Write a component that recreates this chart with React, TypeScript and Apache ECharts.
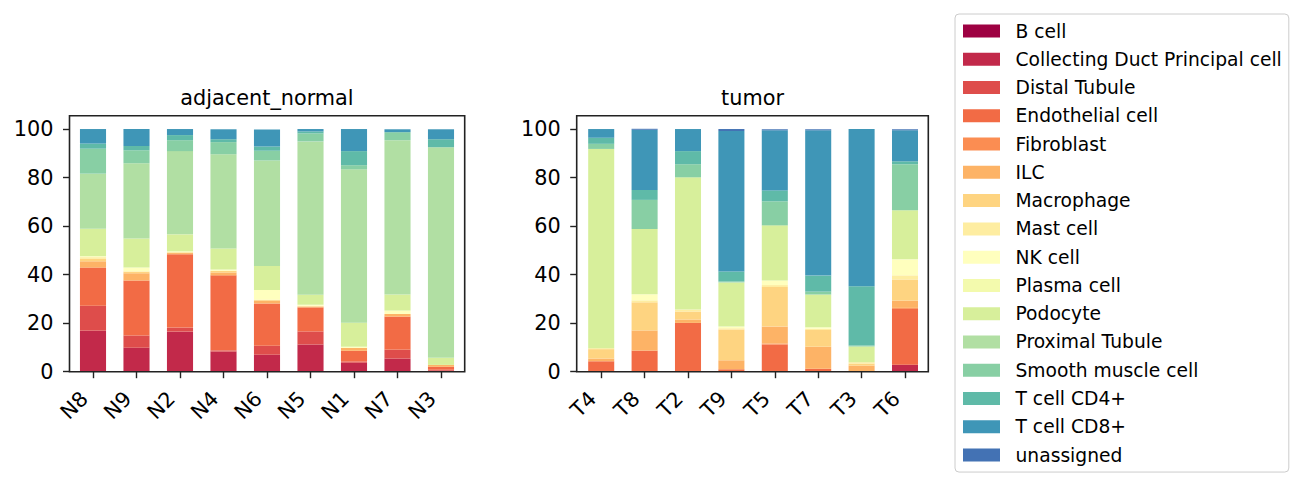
import { useEffect, useRef } from "react";
import * as echarts from "echarts";

const normalSamples = ["N8", "N9", "N2", "N4", "N6", "N5", "N1", "N7", "N3"];
const tumorSamples = ["T4", "T8", "T2", "T9", "T5", "T7", "T3", "T6"];

const cellTypes = [
  "B cell",
  "Collecting Duct Principal cell",
  "Distal Tubule",
  "Endothelial cell",
  "Fibroblast",
  "ILC",
  "Macrophage",
  "Mast cell",
  "NK cell",
  "Plasma cell",
  "Podocyte",
  "Proximal Tubule",
  "Smooth muscle cell",
  "T cell CD4+",
  "T cell CD8+",
  "unassigned",
];

const cellColors = [
  "#9e0142",
  "#c2294a",
  "#de4d4b",
  "#f26b45",
  "#fb8d52",
  "#fdb366",
  "#fed481",
  "#feeda1",
  "#ffffbe",
  "#f3faad",
  "#d7ef9b",
  "#b1dfa3",
  "#88cfa4",
  "#5fbaa8",
  "#3f96b7",
  "#4372b4",
];

// percent per sample, one row per cell type (same order as cellTypes)
const normalPct = [
  [0, 0, 0, 0, 0, 0, 0, 0, 0],
  [16.9, 9.9, 16.5, 8.3, 7.0, 11.2, 3.7, 5.4, 0.4],
  [10.3, 5.0, 1.7, 0.5, 3.7, 5.4, 0.5, 3.7, 0.4],
  [15.7, 22.7, 30.2, 30.9, 17.4, 9.9, 4.4, 13.6, 1.2],
  [0, 0, 0, 0, 0, 0, 0, 0, 0],
  [2.6, 3.0, 0.5, 1.2, 1.1, 0.4, 1.2, 1.1, 0.8],
  [1.0, 0.7, 0.3, 0.7, 0.4, 0, 0, 0, 0],
  [0.7, 0, 0, 0, 0, 0.3, 0, 0, 0],
  [0.4, 1.6, 0.4, 0.5, 4.1, 0.4, 0.5, 1.4, 0],
  [0, 0, 0, 0, 0, 0, 0, 0, 0],
  [11.3, 12.0, 7.0, 8.7, 9.9, 4.1, 9.9, 6.6, 2.9],
  [22.7, 31.0, 34.3, 38.8, 43.4, 63.2, 63.2, 63.6, 86.8],
  [10.3, 5.4, 4.5, 5.0, 4.1, 3.3, 1.7, 3.3, 0],
  [2.1, 1.7, 2.1, 1.2, 1.7, 0.8, 5.8, 0, 3.3],
  [6.0, 7.0, 2.5, 4.1, 7.0, 1.0, 9.1, 1.2, 4.1],
  [0, 0, 0, 0, 0, 0, 0, 0, 0],
];

const tumorPct = [
  [0, 0, 0, 0, 0, 0, 0, 0],
  [0, 0, 0, 0, 0, 0, 0, 2.9],
  [0, 0, 0, 0, 0, 0, 0, 0],
  [4.3, 8.7, 20.1, 1.0, 11.2, 1.2, 0, 23.0],
  [0, 0, 0, 0, 0.4, 0, 0, 0.4],
  [1.1, 8.3, 1.4, 3.7, 7.0, 9.1, 2.5, 3.0],
  [3.9, 11.6, 3.3, 12.7, 16.3, 6.9, 0.8, 8.7],
  [0.4, 0.8, 0.8, 0.5, 0.8, 0.5, 0.6, 1.7],
  [0, 2.5, 0, 0.7, 1.9, 0.6, 0, 6.6],
  [0, 0, 0, 0, 0, 0, 0, 0],
  [82.1, 26.9, 54.5, 18.2, 22.7, 13.5, 6.5, 20.2],
  [0, 0, 0, 0, 0, 0, 0, 0],
  [2.1, 12.0, 5.4, 0.4, 9.9, 1.2, 0.4, 19.0],
  [2.5, 4.1, 5.4, 4.1, 4.5, 6.6, 24.4, 1.2],
  [3.6, 24.8, 9.1, 57.9, 24.8, 59.9, 64.8, 12.8],
  [0, 0.4, 0, 0.8, 0.4, 0.4, 0, 0.4],
];

const yTicks = [0, 20, 40, 60, 80, 100];

const FONT = "DejaVu Sans";
const INK = "#222222";

function xAxisFor(gridIndex: number, data: string[]) {
  return {
    type: "category",
    gridIndex,
    data,
    axisLine: { show: false },
    axisTick: {
      show: true,
      alignWithLabel: true,
      length: 6.5,
      lineStyle: { color: INK, width: 1.4 },
    },
    axisLabel: {
      rotate: 45,
      fontSize: 20.8,
      fontFamily: FONT,
      color: "#000",
      margin: 15,
      padding: [0, 12, 0, 0],
      interval: 0,
    },
    splitLine: { show: false },
  };
}

function yAxisFor(gridIndex: number, offset: number) {
  return {
    type: "value",
    gridIndex,
    min: 0,
    max: 105,
    interval: 20,
    offset,
    axisLine: { show: false },
    axisTick: {
      show: true,
      length: 6.5,
      customValues: yTicks,
      lineStyle: { color: INK, width: 1.4 },
    },
    axisLabel: {
      customValues: yTicks,
      fontSize: 20.8,
      fontFamily: FONT,
      color: "#000",
      margin: 16,
    },
    splitLine: { show: false },
  };
}

export default function App() {
  const chartRef = useRef<HTMLDivElement | null>(null);

  useEffect(() => {
    document.body.style.margin = "0";
    if (!chartRef.current) return;
    const chart = echarts.init(chartRef.current, undefined, { renderer: "svg" });

    const series: any[] = [];
    cellTypes.forEach((name, i) => {
      series.push({
        name,
        type: "bar",
        stack: "normal",
        xAxisIndex: 0,
        yAxisIndex: 0,
        barWidth: "60%",
        itemStyle: { color: cellColors[i] },
        data: normalPct[i],
      });
      series.push({
        name,
        type: "bar",
        stack: "tumor",
        xAxisIndex: 1,
        yAxisIndex: 1,
        barWidth: "60%",
        itemStyle: { color: cellColors[i] },
        data: tumorPct[i],
      });
    });

    chart.setOption({
      animation: false,
      grid: [
        { left: 71.25, top: 116.9, width: 391.5, height: 254.8, containLabel: false },
        { left: 579.5, top: 116.9, width: 347.2, height: 254.8, containLabel: false },
      ],
      xAxis: [xAxisFor(0, normalSamples), xAxisFor(1, tumorSamples)],
      yAxis: [yAxisFor(0, 1.75), yAxisFor(1, 2.8)],
      legend: {
        orient: "vertical",
        left: 955,
        top: 14,
        data: cellTypes,
        icon: "rect",
        itemWidth: 37,
        itemHeight: 13,
        itemGap: 8.27,
        padding: [7, 7, 7, 8],
        borderColor: "#cccccc",
        borderWidth: 1,
        borderRadius: 4,
        backgroundColor: "#ffffff",
        textStyle: {
          fontFamily: FONT,
          fontSize: 18.7,
          lineHeight: 20,
          color: "#000",
          padding: [0, 0, 0, 10.5],
        },
      },
      graphic: [
        {
          type: "rect",
          shape: { x: 69.5, y: 115.7, width: 395.2, height: 256 },
          style: { fill: "none", stroke: INK, lineWidth: 1.6 },
          z: 100,
        },
        {
          type: "rect",
          shape: { x: 576.7, y: 115.7, width: 351.6, height: 256 },
          style: { fill: "none", stroke: INK, lineWidth: 1.6 },
          z: 100,
        },
        {
          type: "text",
          x: 267,
          y: 87.5,
          style: {
            text: "adjacent_normal",
            font: `20.8px "${FONT}"`,
            fill: "#000",
            textAlign: "center",
            textVerticalAlign: "top",
          },
        },
        {
          type: "text",
          x: 752.5,
          y: 87.5,
          style: {
            text: "tumor",
            font: `20.8px "${FONT}"`,
            fill: "#000",
            textAlign: "center",
            textVerticalAlign: "top",
          },
        },
      ],
      series,
    });

    const resize = () => chart.resize();
    window.addEventListener("resize", resize);
    return () => {
      window.removeEventListener("resize", resize);
      chart.dispose();
    };
  }, []);

  return <div ref={chartRef} style={{ width: 1304, height: 489 }} />;
}
